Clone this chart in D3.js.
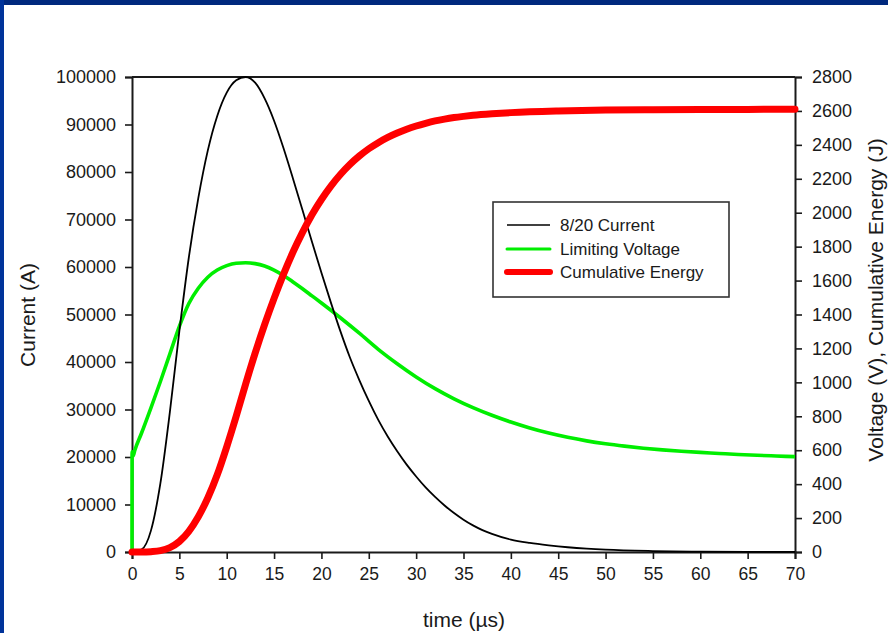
<!DOCTYPE html>
<html>
<head>
<meta charset="utf-8">
<script src="https://cdn.jsdelivr.net/npm/d3@7"></script>
<style>
  html, body { margin: 0; padding: 0; background: #ffffff; }
  svg { display: block; }
  text { font-family: "Liberation Sans", Arial, sans-serif; fill: #1a1a1a; }
</style>
</head>
<body>
<svg id="chart" width="888" height="633"></svg>
<script>
// ---------- data ----------
const currentTime = [0,1,2,3,4,5,6,7,8,9,10,11,12,13,14,15,16,17,18,19,20,21,22,23,24,25,26,27,28,29,30,31,32,33,34,35,36,37,38,40,42,44,46,48,50,55,60,65,70];
const currentValues = [0,500,4500,14500,29500,46500,62000,74500,84500,91800,96700,99300,100000,98800,95500,90800,85000,78600,72000,65300,58800,52500,46500,41000,36200,31800,27800,24300,21200,18400,15900,13600,11600,9800,8200,6800,5600,4600,3800,2600,1900,1400,1000,700,480,200,80,30,10];

const voltageTime = [0,0.01,0.12,0.3,1,2,3,4,5,6,7,8,9,10,11,12,13,14,15,16,17,18,19,20,21,22,24,26,28,30,32,34,36,38,40,42,44,46,48,50,52,54,56,58,60,62,64,66,68,70];
const voltageValues = [0,590,566,600,700,850,1005,1168,1330,1465,1555,1620,1662,1688,1702,1705,1700,1686,1662,1630,1592,1552,1510,1468,1425,1381,1290,1195,1110,1032,963,903,851,806,766,731,701,676,655,638,624,612,602,594,587,581,575,570,566,562];

const energyTime = [0,1,2,3,4,5,6,7,8,9,10,11,12,13,14,15,16,17,18,19,20,21,22,23,24,25,26,27,28,29,30,31,32,33,34,35,36,38,40,45,50,55,60,65,70];
const energyValues = [0,0,2,8,26,62,122,208,318,455,620,800,990,1172,1340,1495,1638,1768,1884,1988,2078,2157,2225,2284,2334,2377,2413,2444,2470,2492,2511,2527,2541,2552,2561,2568,2574,2583,2590,2600,2605,2607,2608,2609,2610];

const xTicks = [0,5,10,15,20,25,30,35,40,45,50,55,60,65,70];
const leftTicks = [0,10000,20000,30000,40000,50000,60000,70000,80000,90000,100000];
const rightTicks = [0,200,400,600,800,1000,1200,1400,1600,1800,2000,2200,2400,2600,2800];

const seriesNames = ["8/20 Current", "Limiting Voltage", "Cumulative Energy"];
const seriesColors = ["#000000", "#00ee00", "#ff0000"];
const xTitle = "time (µs)";
const leftTitle = "Current (A)";
const rightTitle = "Voltage (V), Cumulative Energy (J)";

// ---------- layout ----------
const svg = d3.select("#chart");
const W = 888, H = 633;
const plot = { left: 132, right: 795, top: 77, bottom: 552 };

// frame (blue border at top and left)
svg.append("rect").attr("x", 0).attr("y", 0).attr("width", W).attr("height", 5).attr("fill", "#00297e");
svg.append("rect").attr("x", 0).attr("y", 0).attr("width", 4).attr("height", H).attr("fill", "#00339a");

const x = d3.scaleLinear().domain([0, 70]).range([plot.left, plot.right]);
const yL = d3.scaleLinear().domain([0, 100000]).range([plot.bottom, plot.top]);
const yR = d3.scaleLinear().domain([0, 2800]).range([plot.bottom, plot.top]);

const axisColor = "#1a1a1a";

// axes
const gx = svg.append("g").attr("transform", `translate(0,${plot.bottom})`)
  .call(d3.axisBottom(x).tickValues(xTicks).tickSize(7).tickPadding(9).tickFormat(d3.format("d")));
const gl = svg.append("g").attr("transform", `translate(${plot.left},0)`)
  .call(d3.axisLeft(yL).tickValues(leftTicks).tickSize(7).tickPadding(9).tickFormat(d3.format("d")));
const gr = svg.append("g").attr("transform", `translate(${plot.right},0)`)
  .call(d3.axisRight(yR).tickValues(rightTicks).tickSize(7).tickPadding(10).tickFormat(d3.format("d")));

[gx, gl, gr].forEach(g => {
  g.select(".domain").attr("stroke", axisColor).attr("stroke-width", 2);
  g.selectAll(".tick line").attr("stroke", axisColor).attr("stroke-width", 1.6);
  g.selectAll(".tick text").attr("font-size", 18).attr("fill", "#1a1a1a")
    .style("font-family", '"Liberation Sans", Arial, sans-serif');
});
gx.selectAll(".tick text").attr("font-size", 17.5);

// top border line
svg.append("line").attr("x1", plot.left).attr("x2", plot.right)
  .attr("y1", plot.top).attr("y2", plot.top)
  .attr("stroke", axisColor).attr("stroke-width", 2);

// clip
svg.append("clipPath").attr("id", "clip").append("rect")
  .attr("x", plot.left - 6).attr("y", plot.top - 4)
  .attr("width", plot.right - plot.left + 12).attr("height", plot.bottom - plot.top + 8);

const lineL = d3.line().x(d => x(d[0])).y(d => yL(d[1])).curve(d3.curveMonotoneX);
const lineR = d3.line().x(d => x(d[0])).y(d => yR(d[1])).curve(d3.curveMonotoneX);

const currentData = currentTime.map((t, i) => [t, currentValues[i]]);
const voltageData = voltageTime.map((t, i) => [t, voltageValues[i]]);
const energyData = energyTime.map((t, i) => [t, energyValues[i]]);

const gLines = svg.append("g").attr("clip-path", "url(#clip)");
gLines.append("path").datum(voltageData).attr("d", lineR)
  .attr("fill", "none").attr("stroke", seriesColors[1]).attr("stroke-width", 3.6)
  .attr("stroke-linejoin", "round");
gLines.append("path").datum(currentData).attr("d", lineL)
  .attr("fill", "none").attr("stroke", seriesColors[0]).attr("stroke-width", 1.8)
  .attr("stroke-linejoin", "round");
gLines.append("path").datum(energyData).attr("d", lineR)
  .attr("fill", "none").attr("stroke", seriesColors[2]).attr("stroke-width", 7)
  .attr("stroke-linecap", "round").attr("stroke-linejoin", "round");

// axis titles
svg.append("text").attr("x", 464).attr("y", 627)
  .attr("text-anchor", "middle").attr("font-size", 21).text(xTitle);
svg.append("text").attr("transform", "translate(35,315) rotate(-90)")
  .attr("text-anchor", "middle").attr("font-size", 21).text(leftTitle);
svg.append("text").attr("transform", "translate(883,300) rotate(-90)")
  .attr("text-anchor", "middle").attr("font-size", 21).text(rightTitle);

// legend
const legend = svg.append("g");
legend.append("rect").attr("x", 493).attr("y", 202).attr("width", 236).attr("height", 95)
  .attr("fill", "#ffffff").attr("stroke", "#333333").attr("stroke-width", 1.6);
const legendWidths = [1.5, 3, 6];
const legendRows = [225, 249, 272];
seriesNames.forEach((name, i) => {
  legend.append("line").attr("x1", 507).attr("x2", 550)
    .attr("y1", legendRows[i]).attr("y2", legendRows[i])
    .attr("stroke", seriesColors[i]).attr("stroke-width", legendWidths[i])
    .attr("stroke-linecap", i === 0 ? "butt" : "round");
  legend.append("text").attr("x", 560).attr("y", legendRows[i] + 6)
    .attr("font-size", 17).text(name);
});
</script>
</body>
</html>
